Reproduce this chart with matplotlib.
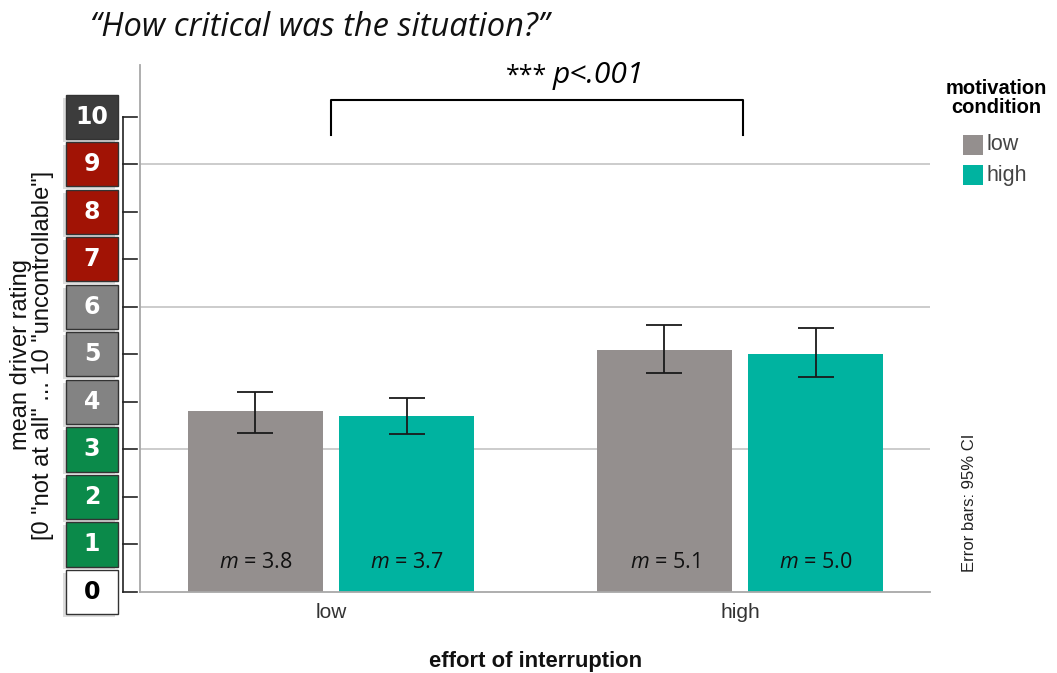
import matplotlib
matplotlib.use("Agg")
import matplotlib.pyplot as plt
from matplotlib.patches import Rectangle
import numpy as np

plt.rcParams["mathtext.fontset"] = "custom"
plt.rcParams["mathtext.it"] = "Open Sans:italic"
plt.rcParams["mathtext.rm"] = "Open Sans"

# Data
categories = ["low", "high"]                 # effort of interruption
series = ["low", "high"]                     # motivation condition
means = {"low": [3.8, 5.1], "high": [3.7, 5.0]}
ci_lower = {"low": [3.35, 4.61], "high": [3.33, 4.53]}
ci_upper = {"low": [4.21, 5.62], "high": [4.08, 5.56]}
rating_levels = list(range(11))
rating_colors = ["#ffffff", "#0b8a4a", "#0b8a4a", "#0b8a4a", "#838383", "#838383",
                 "#838383", "#a11305", "#a11305", "#a11305", "#3c3c3c"]

bar_colors = {"low": "#948f8e", "high": "#00b3a0"}

W, H = 1057, 673
fig = plt.figure(figsize=(W / 100, H / 100), dpi=100)
fig.patch.set_facecolor("white")

ax_left, ax_right, ax_bottom, ax_top = 140, 930, 592, 65
ymax = 11.09
ax = fig.add_axes([ax_left / W, (H - ax_bottom) / H,
                   (ax_right - ax_left) / W, (ax_bottom - ax_top) / H])

x = np.arange(len(categories))
width = 0.33
offset = 0.185
for i, s in enumerate(series):
    pos = x + (i * 2 - 1) * offset
    vals = np.array(means[s])
    lo = vals - np.array(ci_lower[s])
    hi = np.array(ci_upper[s]) - vals
    ax.bar(pos, vals, width, color=bar_colors[s], zorder=2)
    ax.errorbar(pos, vals, yerr=[lo, hi], fmt="none", ecolor="#1a1a1a",
                elinewidth=1.3, capsize=13, capthick=1.3, zorder=3)
    for p, v in zip(pos, vals):
        ax.text(p, 0.62, f"$m$ = {v:.1f}", ha="center", va="center",
                fontsize=15.5, family="Open Sans", color="#111111", zorder=4)

ax.set_xlim(-0.467, 1.4645)
ax.set_ylim(0, ymax)
for g in [3, 6, 9]:
    ax.axhline(g, color="#c8c8c8", lw=1.3, zorder=1)
for sp in ["top", "right"]:
    ax.spines[sp].set_visible(False)
ax.spines["left"].set_color("#a8a8a8")
ax.spines["bottom"].set_color("#a8a8a8")
ax.spines["left"].set_linewidth(1.3)
ax.spines["bottom"].set_linewidth(1.3)
ax.set_yticks([])
ax.set_xticks(x)
ax.set_xticklabels(categories, fontsize=15, color="#333333",
                   family="Liberation Sans")
ax.tick_params(axis="x", length=0, pad=8)

fig.text(536 / W, 1 - 661 / H, "effort of interruption", ha="center",
         va="center", fontsize=15.8, fontweight="bold", family="Liberation Sans",
         color="#111111")

# Significance bracket between the two effort levels
bx0, bx1 = 0.0, 1.007
ax.plot([bx0, bx0, bx1, bx1], [9.62, 10.36, 10.36, 9.62], color="black",
        lw=1.5, clip_on=False, solid_joinstyle="round")
fig.text(547 / W, 1 - 76 / H, "***", ha="right", va="center", fontsize=18,
         family="Open Sans")
fig.text(553 / W, 1 - 76 / H, "p<.001", ha="left", va="center", fontsize=21.5,
         family="Open Sans", style="italic")

# Rating scale on the left
sx = fig.add_axes([0, (H - ax_bottom) / H, ax_left / W, (ax_bottom - ax_top) / H])
sx.set_xlim(0, ax_left)
sx.set_ylim(0, ymax)
sx.axis("off")
sx.plot([123, 123], [0, 10], color="#222222", lw=1.2, clip_on=False)
for lv in rating_levels:
    sx.plot([123, 137], [lv, lv], color="#222222", lw=1.2, clip_on=False)
box_h = 0.93
for lv, col in zip(rating_levels, rating_colors):
    sx.add_patch(Rectangle((63, lv - box_h / 2 - 0.06), 52, box_h,
                           facecolor="#dddddd", edgecolor="none", zorder=1,
                           clip_on=False))
    sx.add_patch(Rectangle((66, lv - box_h / 2), 52, box_h, facecolor=col,
                           edgecolor="#333333", lw=1.0, zorder=2, clip_on=False))
    sx.text(92, lv, str(lv), ha="center", va="center", fontsize=17,
            fontweight="bold", family="DejaVu Sans",
            color="black" if lv == 0 else "white", zorder=3, clip_on=False)

fig.text(32 / W, 1 - 355 / H,
         'mean driver rating\n[0 "not at all" ... 10 "uncontrollable"]',
         rotation=90, ha="center", va="center", fontsize=17,
         family="Liberation Sans", linespacing=0.95, color="#111111")

fig.text(90 / W, 1 - 28 / H, "\u201cHow critical was the situation?\u201d",
         fontsize=23.5, style="italic", family="Open Sans", ha="left",
         va="center", color="#111111")

# Legend
fig.text(996 / W, 1 - 98 / H, "motivation\ncondition", ha="center",
         va="center", fontsize=14.5, fontweight="bold", family="Liberation Sans",
         linespacing=1.0)
for k, s in enumerate(series):
    yc = 145 + k * 30
    fig.patches.append(Rectangle((963 / W, 1 - (yc + 10) / H), 20 / W, 20 / H,
                                 facecolor=bar_colors[s], edgecolor="none",
                                 transform=fig.transFigure, figure=fig))
    fig.text(987 / W, 1 - yc / H, s, ha="left", va="center", fontsize=15.5,
             family="Liberation Sans", color="#444444")

fig.text(970 / W, 1 - 503 / H, "Error bars: 95% CI", rotation=90, ha="center",
         va="center", fontsize=12, family="Liberation Sans", color="#222222")

fig.savefig("out.png", dpi=100, facecolor="white")
